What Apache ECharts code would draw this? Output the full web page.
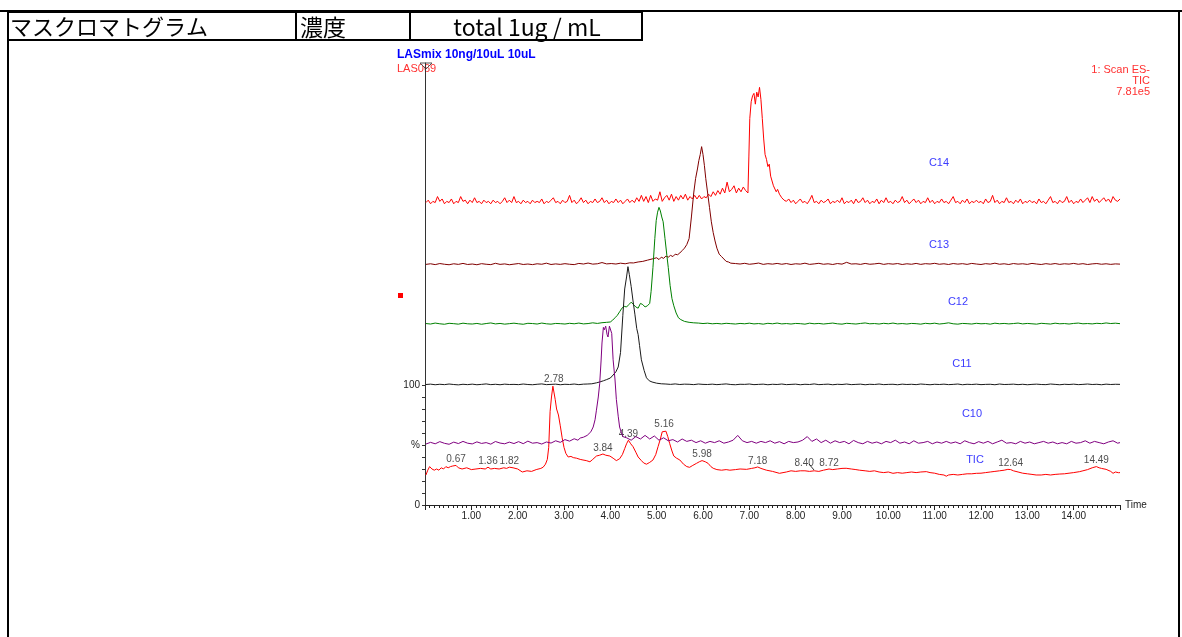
<!DOCTYPE html>
<html>
<head>
<meta charset="utf-8">
<script src="https://cdn.jsdelivr.net/npm/echarts@6/dist/echarts.min.js"></script>
<style>
html, body { margin: 0; padding: 0; background: #fff; }
#chart { width: 1182px; height: 637px; }
</style>
</head>
<body>
<div id="chart"></div>
<script>
// 横軸 (min)
const timeMin = 0;
const timeMax = 15;
const traceNames = ['TIC', 'C10', 'C11', 'C12', 'C13', 'C14'];
// 各トレースの縦方向オフセット (%)
const traceOffsets = [0, 50, 100, 150, 200, 250];

// ---- C14 ----
// 0.02〜6.97 min, 0.05刻み
const c14Base1 = [
  2, 4, 1, 3, 2, 7, 3, 5, 1, 3,
  2, 5, 1, 3, 2, 7, 3, 4, 1, 4,
  2, 6, 2, 3, 1, 4, 2, 3, 1, 4,
  2, 3, 1, 3, 6, 2, 4, 2, 7, 2,
  3, 1, 4, 2, 3, 1, 4, 2, 3, 2,
  5, 1, 3, 2, 4, 6, 2, 3, 1, 4,
  2, 3, 8, 2, 4, 1, 3, 6, 2, 4,
  1, 3, 2, 5, 2, 3, 6, 2, 4, 1,
  3, 2, 5, 2, 4, 1, 3, 5, 2, 4,
  2, 6, 3, 8, 3, 7, 2, 8, 3, 5,
  4, 11, 3, 6, 8, 4, 9, 3, 7, 4,
  8, 5, 9, 4, 7, 5, 8, 5, 8, 5,
  7, 6, 9, 7, 11, 8, 12, 9, 14, 10,
  19, 11, 13, 16, 10, 14, 11, 15, 12, 10
];
const c14Peak = [
  [6.99, 40], [7.01, 72], [7.04, 86], [7.07, 91], [7.10, 93], [7.13, 84], [7.16, 94], [7.19, 90],
  [7.22, 98], [7.25, 88], [7.28, 72], [7.31, 55], [7.34, 42], [7.37, 38], [7.40, 32],
  [7.43, 34], [7.46, 24], [7.49, 20], [7.52, 16], [7.55, 15], [7.58, 11], [7.61, 13]
];
// 7.65〜15.00 min, 0.05刻み
const c14Base2 = [
  9, 6, 4, 3, 5, 2, 4, 1, 3, 5,
  2, 3, 1, 4, 8, 2, 3, 1, 4, 2,
  3, 5, 1, 3, 2, 4, 2, 6, 1, 3,
  2, 4, 1, 5, 2, 3, 6, 2, 4, 1,
  3, 2, 5, 1, 4, 2, 6, 2, 3, 1,
  4, 2, 3, 7, 2, 4, 1, 3, 5, 2,
  4, 1, 3, 2, 6, 2, 4, 1, 3, 2,
  5, 2, 3, 1, 4, 7, 2, 3, 1, 4,
  2, 5, 1, 3, 2, 4, 2, 3, 1, 5,
  2, 3, 8, 2, 4, 1, 3, 2, 6, 2,
  3, 1, 4, 2, 5, 1, 3, 2, 4, 2,
  3, 1, 5, 2, 3, 1, 4, 7, 2, 3,
  1, 4, 2, 3, 7, 2, 4, 1, 3, 2,
  5, 2, 4, 6, 2, 7, 3, 5, 2, 4,
  6, 3, 5, 2, 7, 4, 3, 5
];

// ---- C13 ----
// 0.02〜4.42 min, 0.1刻み
const c13Base1 = [
  0.5, 1, 0.3, 1.2, 0.6, 0.2, 1, 0.5, 1.3, 0.4,
  0.8, 0.2, 1.1, 0.6, 0.3, 1.4, 0.5, 0.9, 0.2, 0.7,
  1.2, 0.4, 0.8, 0.3, 1, 0.6, 1.5, 0.4, 0.9, 0.5,
  1.1, 0.6, 0.3, 1.3, 0.8, 1.6, 0.7, 1, 2, 0.9,
  1.2, 0.8, 1.5, 1, 1.8
];
const c13Peak = [
  [4.5, 1.7], [4.6, 2.5], [4.7, 3], [4.8, 4], [4.9, 5], [5.0, 6], [5.05, 4.5], [5.1, 6.5],
  [5.15, 5.5], [5.2, 7.5], [5.25, 6.5], [5.3, 8], [5.35, 7], [5.4, 9], [5.45, 8.5], [5.5, 10],
  [5.55, 12], [5.6, 14], [5.65, 17], [5.7, 22], [5.75, 40],
  [5.8, 60], [5.84, 72], [5.88, 80], [5.91, 87], [5.94, 92], [5.97, 98.6], [6.0, 92],
  [6.03, 83], [6.06, 72], [6.1, 60], [6.14, 48], [6.18, 36], [6.22, 27], [6.26, 20],
  [6.3, 14], [6.35, 9], [6.4, 7], [6.45, 5], [6.5, 3], [6.55, 2.5], [6.6, 1.5]
];
// 6.7〜15.0 min, 0.1刻み
const c13Base2 = [
  1.2, 0.8, 1.4, 0.6, 1, 1.6, 0.5, 1.1, 0.7, 1.3,
  0.6, 1.2, 0.4, 1, 0.7, 1.5, 0.5, 0.9, 1.4, 0.6,
  1, 0.4, 1.2, 0.7, 2.2, 0.8, 1, 0.5, 1.3, 0.6,
  0.9, 1.4, 0.5, 1.1, 0.7, 1.2, 0.4, 1, 0.6, 1.3,
  0.5, 1.1, 0.8, 1.4, 0.6, 1, 0.4, 1.2, 0.7, 1.1,
  0.5, 1.3, 0.8, 0.4, 1.1, 0.7, 1.5, 0.6, 1, 0.4,
  1.2, 0.7, 1, 0.5, 1.3, 0.8, 0.4, 1.1, 0.6, 1.2,
  0.5, 1, 0.7, 1.3, 0.6, 1.1, 0.4, 0.9, 1.2, 0.6,
  1, 0.5, 0.9, 0.7
];

// ---- C12 ----
// 0.02〜3.92 min, 0.1刻み
const c12Base1 = [
  1.2, 0.8, 1.6, 1, 0.6, 1.4, 1.1, 0.7, 1.5, 1,
  0.8, 1.3, 0.6, 1.2, 1.7, 0.9, 1.3, 0.7, 1.1, 1.5,
  1, 0.6, 1.4, 1.2, 0.8, 1.6, 1, 0.7, 1.3, 1.1,
  0.8, 1.4, 1, 1.6, 0.9, 1.2, 1.8, 1.3, 1.9, 2.2
];
const c12Peak = [
  [4.0, 2.5], [4.05, 4], [4.1, 6], [4.15, 8], [4.2, 11], [4.25, 14], [4.3, 15.5],
  [4.35, 15], [4.4, 17], [4.45, 19], [4.5, 17], [4.55, 15], [4.6, 14], [4.65, 18],
  [4.7, 17], [4.75, 15], [4.8, 16], [4.85, 18], [4.88, 28], [4.92, 48], [4.96, 72],
  [4.99, 87], [5.02, 94], [5.05, 98], [5.08, 95], [5.11, 90], [5.14, 86], [5.18, 72],
  [5.22, 58], [5.25, 48], [5.29, 33], [5.33, 22], [5.37, 16], [5.42, 10], [5.47, 6],
  [5.52, 4.5], [5.6, 3], [5.7, 2.2], [5.8, 1.8]
];
// 5.9〜15.0 min, 0.1刻み
const c12Base2 = [
  1.6, 1.2, 1.5, 1, 1.3, 0.9, 1.4, 1.1, 0.8, 1.3,
  1, 1.5, 0.9, 1.2, 0.7, 1.4, 1, 1.6, 0.9, 1.2,
  0.8, 1.3, 1.1, 0.7, 1.5, 1, 1.3, 0.8, 1.2, 1.6,
  1, 0.7, 1.4, 1.1, 0.8, 1.3, 1.7, 1, 1.2, 0.8,
  1.4, 1, 1.6, 0.9, 1.2, 0.8, 1.3, 1.1, 0.7, 1.4,
  1, 1.5, 0.8, 1.2, 1.8, 1, 0.7, 1.3, 1.1, 0.8,
  1.4, 1, 1.2, 0.7, 1.5, 1, 1.3, 0.9, 1.2, 1.6,
  0.9, 1.3, 1, 0.7, 1.4, 1.1, 0.8, 1.5, 1, 1.2,
  0.8, 1.3, 1.6, 1, 1.2, 0.9, 1.4, 1.1, 1.7, 1.2,
  1.5, 1.1
];

// ---- C11 ----
// 0.02〜3.42 min, 0.1刻み
const c11Base1 = [
  0.4, 0.7, 0.2, 0.6, 0.3, 0.8, 0.4, 0.1, 0.6, 0.3,
  0.7, 0.2, 0.5, 0.9, 0.3, 0.6, 0.2, 0.7, 0.4, 0.5,
  0.3, 0.8, 0.4, 0.2, 0.6, 0.9, 0.3, 0.5, 0.7, 0.2,
  0.6, 0.4, 0.8, 0.3, 0.7
];
const c11Peak = [
  [3.5, 0.8], [3.6, 1], [3.7, 1.8], [3.77, 2.5], [3.85, 3.5], [3.92, 4.5], [4.0, 5.8],
  [4.06, 8.3], [4.12, 11], [4.17, 15], [4.22, 27], [4.27, 58], [4.31, 80], [4.35, 90],
  [4.38, 98.6], [4.41, 92], [4.45, 82], [4.49, 70], [4.53, 59], [4.57, 47], [4.6, 42],
  [4.63, 33], [4.67, 21], [4.73, 12], [4.78, 6], [4.84, 3.5], [4.9, 2.5], [5.0, 1.5], [5.1, 1]
];
// 5.2〜15.0 min, 0.1刻み
const c11Base2 = [
  0.8, 0.5, 0.9, 0.4, 0.7, 0.6, 0.3, 0.8, 0.5, 0.4,
  0.7, 0.3, 0.6, 0.9, 0.4, 0.2, 0.6, 0.5, 0.8, 0.3,
  0.5, 0.7, 0.2, 0.6, 0.4, 0.8, 0.3, 0.5, 0.7, 0.2,
  0.6, 0.4, 0.9, 0.3, 0.5, 0.7, 0.2, 0.6, 0.4, 0.8,
  0.3, 0.5, 0.7, 0.2, 0.6, 0.4, 0.8, 0.3, 0.5, 0.6,
  0.2, 0.7, 0.4, 0.6, 0.3, 0.8, 0.5, 0.2, 0.6, 0.4,
  0.7, 0.3, 0.5, 0.8, 0.2, 0.6, 0.4, 0.7, 0.3, 0.5,
  0.6, 0.2, 0.8, 0.4, 0.5, 0.7, 0.3, 0.6, 0.2, 0.5,
  0.7, 0.4, 0.3, 0.8, 0.5, 0.2, 0.6, 0.4, 0.7, 0.3,
  0.5, 0.8, 0.4, 0.6, 0.2, 0.7, 0.4, 0.6, 0.5
];

// ---- C10 ----
// 0.02〜3.22 min, 0.1刻み
const c10Base1 = [
  0.8, 2.2, 1, 2.8, 1.4, 0.6, 2.4, 1.2, 3, 1.5,
  0.9, 2.6, 1.3, 2, 0.7, 2.9, 1.6, 1, 2.4, 1.2,
  2.8, 1.1, 3.2, 1.5, 2, 0.8, 2.5, 1.6, 3.5, 2.2,
  4.5, 3.2, 5.2
];
const c10Peak = [
  [3.3, 4], [3.35, 5.8], [3.42, 6.5], [3.5, 8], [3.58, 11], [3.63, 15], [3.67, 21],
  [3.7, 29], [3.74, 40], [3.77, 51], [3.8, 70], [3.82, 85], [3.85, 98], [3.87, 96],
  [3.9, 99], [3.93, 92], [3.95, 90], [3.98, 99], [4.01, 98], [4.03, 93], [4.06, 71],
  [4.1, 55], [4.13, 38], [4.17, 24], [4.2, 15], [4.24, 10], [4.27, 7], [4.3, 5.5]
];
// 4.35〜14.95 min, 0.1刻み
const c10Base2 = [
  6, 4, 7, 5, 8, 5, 7.5, 4, 6, 3.5,
  4.5, 2.5, 5, 3, 4, 2, 3.5, 1.5, 3, 2,
  3.5, 1.5, 2.5, 4, 8, 3.5, 2, 3, 1.5, 3,
  2, 3.5, 1.5, 2.8, 1, 3, 2, 2.5, 4, 7,
  3, 5, 2, 4, 1.5, 3.5, 2, 3, 1, 3.8,
  2, 1, 3, 1.5, 2.5, 1, 3, 2, 4, 1.5,
  2.5, 1, 3.5, 1.5, 2, 3, 1, 2.5, 1.5, 3,
  1.5, 2.5, 1, 3.5, 2, 1, 2.8, 1.5, 3, 1,
  2.5, 4, 1.5, 2, 1, 3, 1.5, 2.5, 1, 2,
  3, 1.5, 2.5, 1, 2, 1, 3, 1.5, 2, 3.5,
  1.5, 3, 2, 1, 2.5, 3.5, 1.5
];
const c10End = [[15.0, 2]];

// ---- TIC ----
const ticData = [
  [0.02, 25], [0.06, 29], [0.1, 32], [0.15, 30], [0.2, 29], [0.25, 30], [0.3, 29], [0.35, 31],
  [0.4, 30], [0.45, 32], [0.5, 31], [0.55, 32], [0.6, 32.5], [0.67, 33], [0.72, 31], [0.8, 30],
  [0.9, 31], [1.0, 29.5], [1.1, 30], [1.2, 30.5], [1.3, 30], [1.36, 31.5], [1.42, 30], [1.5, 30.5],
  [1.6, 30], [1.7, 31], [1.76, 30.5], [1.82, 31.5], [1.9, 31], [2.0, 30], [2.1, 27.5], [2.2, 28.5],
  [2.3, 28], [2.4, 29.5], [2.5, 30.5], [2.55, 31.5], [2.6, 34], [2.64, 38], [2.67, 48], [2.7, 78],
  [2.73, 90], [2.76, 99], [2.78, 100], [2.81, 88], [2.84, 80], [2.88, 75], [2.92, 66], [2.96, 56],
  [3.0, 48], [3.04, 43], [3.09, 40], [3.15, 40.5], [3.2, 39.5], [3.27, 39], [3.35, 38], [3.41, 37.5],
  [3.48, 37], [3.56, 36], [3.62, 38], [3.7, 40.8], [3.77, 41.5], [3.84, 42.5], [3.9, 41.5], [3.99, 40.8],
  [4.06, 39], [4.13, 37], [4.2, 38.5], [4.26, 42], [4.31, 47], [4.35, 51], [4.39, 54], [4.44, 51],
  [4.49, 48.6], [4.55, 44], [4.6, 40], [4.67, 37], [4.72, 35], [4.78, 34], [4.85, 35.5], [4.92, 37.5],
  [4.98, 42], [5.03, 48.6], [5.08, 55], [5.12, 61], [5.16, 62.5], [5.2, 61.5], [5.24, 57], [5.28, 51.4],
  [5.33, 45], [5.37, 40.8], [5.43, 39], [5.5, 37.5], [5.58, 34], [5.65, 32], [5.71, 31.4], [5.78, 33],
  [5.86, 34.7], [5.92, 36], [5.98, 37], [6.05, 36], [6.11, 34.7], [6.17, 32], [6.22, 30.6], [6.3, 29.5],
  [6.4, 29], [6.5, 29.5], [6.58, 29], [6.7, 29.5], [6.8, 30], [6.94, 29.7], [7.05, 30.5], [7.12, 31],
  [7.18, 31.7], [7.25, 30.5], [7.37, 29], [7.5, 28], [7.65, 26.4], [7.8, 27.5], [7.9, 28.5], [8.0, 28],
  [8.1, 28.5], [8.2, 28.5], [8.3, 28], [8.4, 28.5], [8.5, 28], [8.6, 29], [8.72, 30], [8.8, 29.5],
  [8.9, 30], [9.0, 30.5], [9.09, 30.6], [9.2, 30], [9.3, 29.5], [9.38, 29], [9.5, 28.5], [9.6, 28],
  [9.7, 28.5], [9.8, 27.5], [9.9, 27], [10.0, 27.5], [10.1, 26.4], [10.2, 27], [10.3, 26.5], [10.4, 27],
  [10.5, 27.5], [10.6, 27], [10.7, 27.5], [10.82, 27.8], [10.9, 27], [11.0, 26.5], [11.1, 25.5], [11.2, 25],
  [11.25, 24], [11.3, 25], [11.4, 25.5], [11.5, 25], [11.6, 25.5], [11.7, 26], [11.8, 26], [11.9, 26.4],
  [12.0, 26.5], [12.1, 27], [12.2, 27.5], [12.3, 28], [12.4, 28.5], [12.5, 29], [12.58, 29.7], [12.64, 29.5],
  [12.7, 28.5], [12.8, 27.5], [12.9, 26.5], [13.0, 26], [13.1, 25.5], [13.19, 25], [13.3, 25], [13.4, 25.5],
  [13.5, 25], [13.6, 25.5], [13.7, 25.8], [13.8, 26], [13.9, 26.5], [14.0, 27], [14.13, 27.8], [14.2, 28.5],
  [14.3, 29.5], [14.4, 31], [14.49, 32], [14.55, 31], [14.6, 30.5], [14.7, 29.7], [14.8, 28], [14.85, 26.4],
  [14.9, 27.5], [14.97, 26.9], [15.0, 27]
];

// TIC ピークラベル [保持時間, 強度, ラベル]
const ticPeaks = [
  [0.67, 33, '0.67'], [1.36, 31.5, '1.36'], [1.82, 31.5, '1.82'], [2.78, 100, '2.78'],
  [3.84, 42.5, '3.84'], [4.39, 54, '4.39'], [5.16, 62.5, '5.16'], [5.98, 37, '5.98'],
  [7.18, 31.7, '7.18'], [8.40, 28.5, '8.40'], [8.72, 30, '8.72'], [12.64, 29.5, '12.64'],
  [14.49, 32, '14.49']
];

const traceColors = ['#ff0000', '#800080', '#1a1a1a', '#008000', '#800000', '#ff0000'];

function seg(start, step, vals) {
  return vals.map((v, i) => [+(start + i * step).toFixed(3), v]);
}

const traces = [
  ticData,
  [...seg(0.02, 0.1, c10Base1), ...c10Peak, ...seg(4.35, 0.1, c10Base2), ...c10End],
  [...seg(0.02, 0.1, c11Base1), ...c11Peak, ...seg(5.2, 0.1, c11Base2)],
  [...seg(0.02, 0.1, c12Base1), ...c12Peak, ...seg(5.9, 0.1, c12Base2)],
  [...seg(0.02, 0.1, c13Base1), ...c13Peak, ...seg(6.7, 0.1, c13Base2)],
  [...seg(0.02, 0.05, c14Base1), ...c14Peak, ...seg(7.65, 0.05, c14Base2)]
];

const yTop = 368.3; // 縦軸上端 (%)
const font = 'Liberation Sans, Arial, sans-serif';
const jpFont = '"Noto Sans CJK JP", sans-serif';

const chart = echarts.init(document.getElementById('chart'));

const yAxes = traceOffsets.map((off, i) => ({
  type: 'value',
  min: -off,
  max: yTop - off,
  show: i === 0,
  splitLine: { show: false },
  axisLine: { show: true, lineStyle: { color: '#333', width: 1 } },
  axisTick: { show: true, customValues: [0, 10, 20, 30, 40, 50, 60, 70, 80, 90, 100], length: 3, lineStyle: { color: '#333' } },
  axisLabel: {
    customValues: [0, 50, 100],
    formatter: v => (v === 50 ? '%' : String(v)),
    fontSize: 10, color: '#222', fontFamily: font, margin: 5
  }
}));

const series = traces.map((d, i) => ({
  name: traceNames[i],
  type: 'line',
  yAxisIndex: i,
  data: d,
  showSymbol: false,
  symbol: 'none',
  lineStyle: { color: traceColors[i], width: 1 },
  z: 2 + (i === 0 ? 0 : 6 - i),
  animation: false
}));

series.push({
  type: 'scatter',
  yAxisIndex: 0,
  symbolSize: 0,
  data: ticPeaks.map(p => ({
    value: p,
    label: p[2] === '8.40' ? { offset: [-10, -2] } : undefined
  })),
  label: {
    show: true, position: 'top', distance: 1,
    formatter: p => p.value[2],
    fontSize: 10, color: '#222', fontFamily: font
  },
  silent: true,
  animation: false
});

const traceLabels = [
  ['C14', 939, 163], ['C13', 939, 245], ['C12', 958, 302],
  ['C11', 962, 364], ['C10', 972, 414], ['TIC', 975, 460]
];

const graphic = [
  // 枠線
  { type: 'line', shape: { x1: 0, y1: 11, x2: 1182, y2: 11 }, style: { stroke: '#000', lineWidth: 2 } },
  { type: 'line', shape: { x1: 8, y1: 11, x2: 8, y2: 637 }, style: { stroke: '#000', lineWidth: 2 } },
  { type: 'line', shape: { x1: 1179, y1: 11, x2: 1179, y2: 637 }, style: { stroke: '#000', lineWidth: 2 } },
  { type: 'rect', shape: { x: 8, y: 12, width: 634, height: 28 }, style: { fill: 'none', stroke: '#000', lineWidth: 2 } },
  { type: 'line', shape: { x1: 296, y1: 12, x2: 296, y2: 40 }, style: { stroke: '#000', lineWidth: 2 } },
  { type: 'line', shape: { x1: 410, y1: 12, x2: 410, y2: 40 }, style: { stroke: '#000', lineWidth: 2 } },
  { type: 'text', style: { text: 'マスクロマトグラム', x: 10, y: 27, font: '22px ' + jpFont, fill: '#000', textVerticalAlign: 'middle' } },
  { type: 'text', style: { text: '濃度', x: 300, y: 27, font: '23px ' + jpFont, fill: '#000', textVerticalAlign: 'middle' } },
  { type: 'text', style: { text: 'total 1ug / mL', x: 527, y: 27, font: '23px ' + jpFont, fill: '#000', textAlign: 'center', textVerticalAlign: 'middle' } },
  // タイトル
  { type: 'text', style: { text: 'LASmix 10ng/10uL 10uL', x: 397, y: 55, font: 'bold 12px ' + font, fill: '#0000ff', textVerticalAlign: 'middle' } },
  { type: 'text', style: { text: 'LAS069', x: 397, y: 69, font: '11px ' + font, fill: '#ff3030', textVerticalAlign: 'middle' } },
  { type: 'text', style: { text: '1: Scan ES-', x: 1150, y: 70, font: '11px ' + font, fill: '#ff3030', textAlign: 'right', textVerticalAlign: 'middle' } },
  { type: 'text', style: { text: 'TIC', x: 1150, y: 81, font: '11px ' + font, fill: '#ff3030', textAlign: 'right', textVerticalAlign: 'middle' } },
  { type: 'text', style: { text: '7.81e5', x: 1150, y: 92, font: '11px ' + font, fill: '#ff3030', textAlign: 'right', textVerticalAlign: 'middle' } },
  // 軸上端マーク
  { type: 'polygon', shape: { points: [[420, 63], [432, 63], [426, 69]] }, style: { fill: 'none', stroke: '#555', lineWidth: 1 } },
  { type: 'rect', shape: { x: 398, y: 293, width: 5, height: 5 }, style: { fill: '#ff0000' } },
  // 8.40 の引出し線
  { type: 'line', shape: { x1: 809, y1: 464, x2: 814, y2: 470 }, style: { stroke: '#333', lineWidth: 1 } }
].concat(traceLabels.map(t => ({
  type: 'text',
  style: { text: t[0], x: t[1], y: t[2], font: '11px ' + font, fill: '#3c3cff', textAlign: 'center', textVerticalAlign: 'middle' }
})));

chart.setOption({
  animation: false,
  backgroundColor: '#fff',
  grid: { left: 425, right: 62, top: 63, bottom: 132, containLabel: false },
  xAxis: {
    type: 'value',
    min: timeMin,
    max: timeMax,
    interval: 1,
    name: 'Time',
    nameLocation: 'end',
    nameGap: 5,
    nameTextStyle: { fontSize: 10, color: '#222', fontFamily: font },
    splitLine: { show: false },
    axisLine: { lineStyle: { color: '#222', width: 1 } },
    axisTick: { show: true, length: 5, lineStyle: { color: '#222' } },
    minorTick: { show: true, splitNumber: 10, length: 3, lineStyle: { color: '#222' } },
    axisLabel: {
      formatter: v => (v <= timeMin || v >= timeMax ? '' : v.toFixed(2)),
      fontSize: 10, color: '#222', fontFamily: font, margin: 6
    }
  },
  yAxis: yAxes,
  series: series,
  graphic: graphic
});
</script>
</body>
</html>
